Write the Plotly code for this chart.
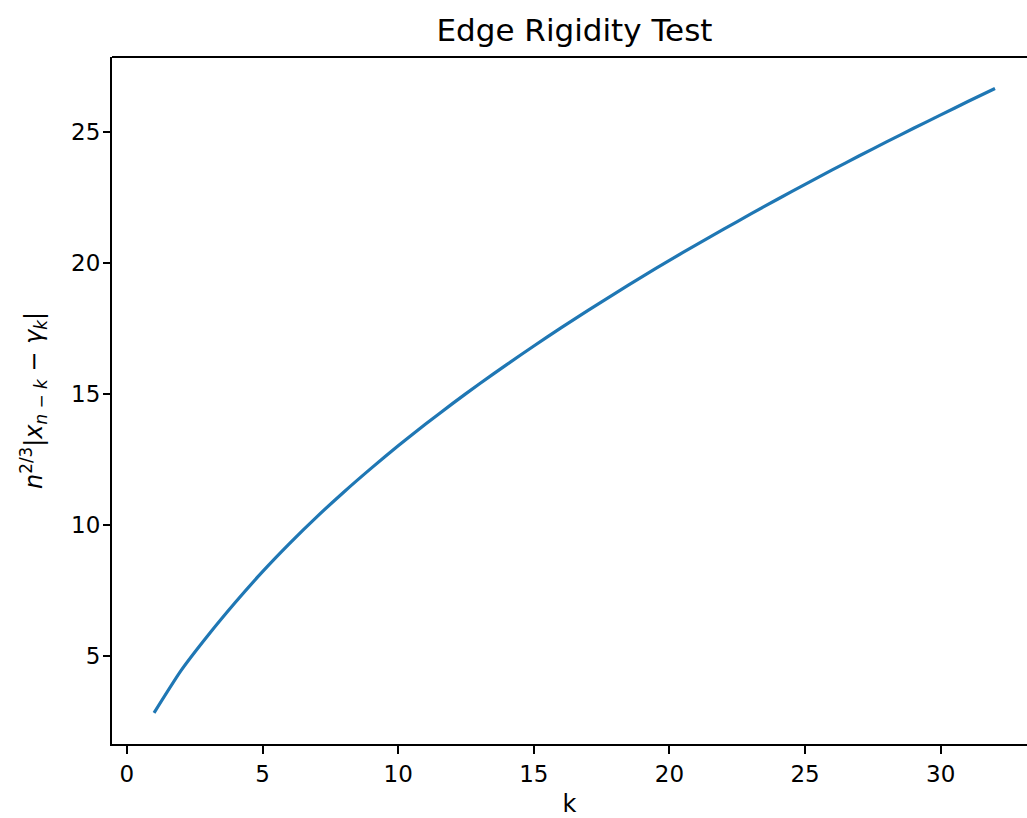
import plotly.graph_objects as go

k_values = list(range(1, 33))
deviation = [2.83, 4.45, 5.80, 7.05, 8.22, 9.30, 10.31, 11.26, 12.16, 13.02,
             13.84, 14.63, 15.39, 16.12, 16.83, 17.52, 18.19, 18.84, 19.48, 20.10,
             20.70, 21.29, 21.87, 22.44, 23.00, 23.55, 24.09, 24.62, 25.14, 25.65,
             26.16, 26.66]
x_ticks = [0, 5, 10, 15, 20, 25, 30]
y_ticks = [5, 10, 15, 20, 25]

FONT = "DejaVu Sans"
W, H = 1027, 818

fig = go.Figure()
fig.add_trace(go.Scatter(x=k_values, y=deviation, mode="lines", line_shape="spline",
                         line=dict(color="#1f77b4", width=3.2, smoothing=0.6), showlegend=False))

fig.update_layout(
    width=W, height=H,
    margin=dict(l=112, r=0, t=57, b=72),
    paper_bgcolor="white", plot_bgcolor="white",
    font=dict(family=FONT, size=23, color="#000000"),
    title=dict(text="Edge Rigidity Test", x=574.5 / W, xanchor="center", y=1 - 30 / H, yanchor="middle",
               font=dict(family=FONT, size=31, color="#000000")),
    xaxis=dict(range=[-0.55, 33.18], tickvals=x_ticks, showgrid=False, zeroline=False,
               showline=True, linecolor="#000000", linewidth=2, mirror=False,
               ticks="outside", ticklen=8, tickwidth=2, tickcolor="#000000",
               tickfont=dict(family=FONT, size=23, color="#000000"),
               title=dict(text="k", font=dict(family=FONT, size=24, color="#000000"), standoff=15)),
    yaxis=dict(range=[1.64, 27.86], tickvals=y_ticks, showgrid=False, zeroline=False,
               showline=True, linecolor="#000000", linewidth=2, mirror=False,
               ticks="outside", ticklen=7, tickwidth=2, tickcolor="#000000",
               ticklabelstandoff=-2,
               tickfont=dict(family=FONT, size=23, color="#000000"),
               title=dict(text="<i>n</i><sup>2/3</sup>|<i>x</i><sub><i>n</i> − <i>k</i></sub> − <i>γ</i><sub><i>k</i></sub>|",
                          font=dict(family=FONT, size=24, color="#000000"), standoff=22)),
    shapes=[dict(type="line", xref="paper", yref="paper", x0=0, x1=1, y0=1, y1=1,
                 line=dict(color="#000000", width=2))],
)

fig.write_html("out.html", config={"displayModeBar": False},
               post_script="document.body.style.margin='0';")
